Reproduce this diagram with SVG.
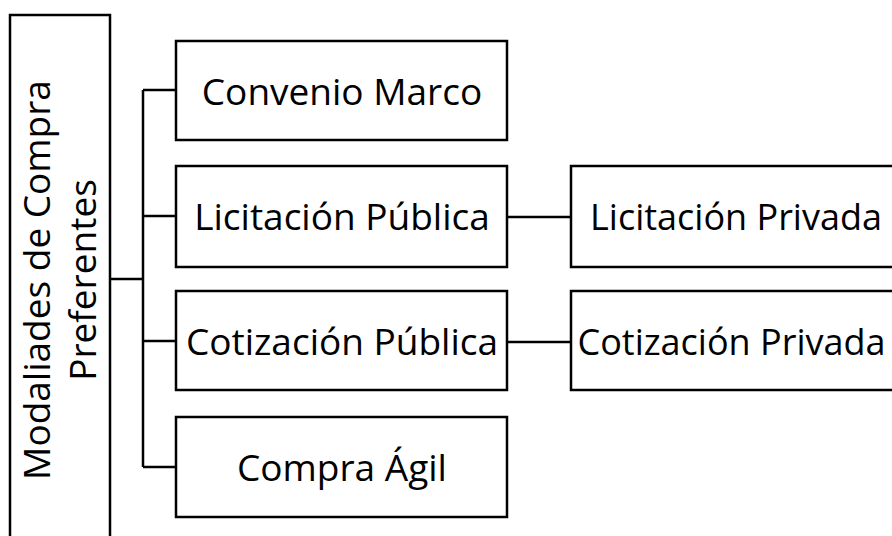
<svg xmlns="http://www.w3.org/2000/svg" width="892" height="536" viewBox="0 0 892 536">
<style>
.box{fill:#fff;stroke:#000;stroke-width:2.5}
.lbl{font-family:"Open Sans","Liberation Sans",sans-serif;font-size:37px;fill:#000;text-anchor:middle}
.conn{fill:none;stroke:#000;stroke-width:2.5}
</style>
<rect width="892" height="536" fill="#fff"/>
<g id="connectors">
<path class="conn" d="M110 279H143M143 90V467M143 90H176M143 216H176M143 341H176M143 467H176M507 217H571M507 342H571"/>
</g>
<g id="root">
<rect class="box" x="10" y="15" width="100" height="540"/>
<text class="lbl" transform="translate(50,280) rotate(-90)">Modaliades de Compra</text>
<text class="lbl" transform="translate(96,280) rotate(-90)">Preferentes</text>
</g>
<g id="convenio">
<rect class="box" x="176" y="41" width="331" height="99"/>
<text class="lbl" x="342" y="105">Convenio Marco</text>
</g>
<g id="licitacion-publica">
<rect class="box" x="176" y="166" width="331" height="101"/>
<text class="lbl" x="342" y="230">Licitación Pública</text>
</g>
<g id="cotizacion-publica">
<rect class="box" x="176" y="291" width="331" height="99"/>
<text class="lbl" x="342" y="355">Cotización Pública</text>
</g>
<g id="compra-agil">
<rect class="box" x="176" y="417" width="331" height="100"/>
<text class="lbl" x="342" y="481">Compra Ágil</text>
</g>
<g id="licitacion-privada">
<rect class="box" x="571" y="166" width="340" height="101"/>
<text class="lbl" x="736" y="230" style="font-size:36px">Licitación Privada</text>
</g>
<g id="cotizacion-privada">
<rect class="box" x="571" y="291" width="340" height="99"/>
<text class="lbl" x="731.5" y="355" style="font-size:36px">Cotización Privada</text>
</g>
</svg>
